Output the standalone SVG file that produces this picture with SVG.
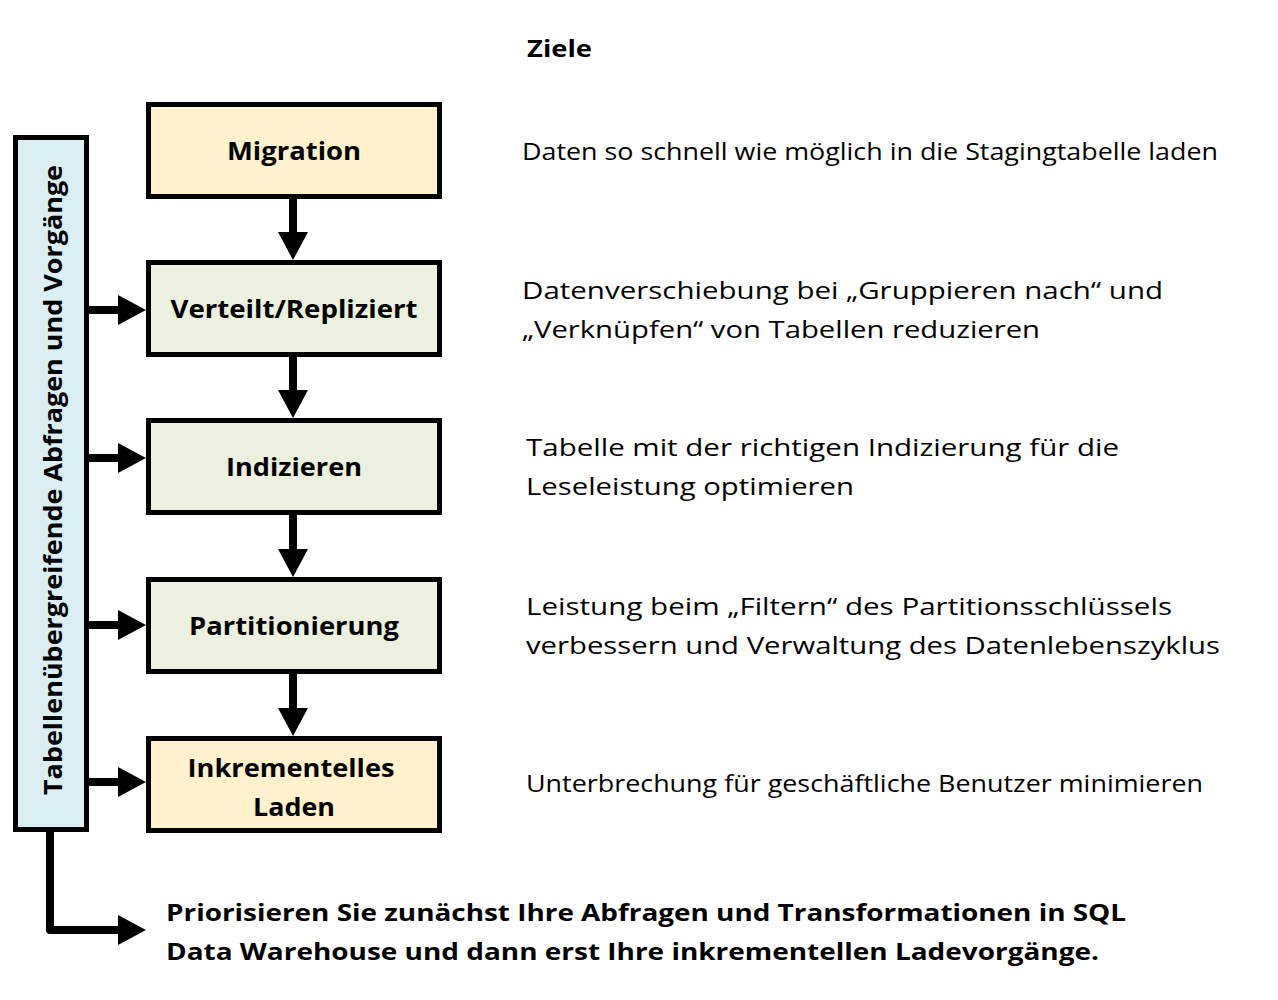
<svg xmlns="http://www.w3.org/2000/svg" width="1278" height="1000" viewBox="0 0 1278 1000">
<style>
.box{stroke:#000;stroke-width:5}
.yel{fill:#FFF2CC}
.grn{fill:#EBF1DE}
.blu{fill:#DBEEF4}
.lbl{font-family:"Open Sans","Liberation Sans",sans-serif;font-weight:bold;font-size:25px;fill:#000;text-anchor:middle}
.txt{font-family:"Open Sans","Liberation Sans",sans-serif;font-size:24px;fill:#000}
.btxt{font-family:"Open Sans","Liberation Sans",sans-serif;font-weight:bold;font-size:24px;fill:#000}
.con{stroke:#000;stroke-width:8;fill:none;marker-end:url(#ah)}
</style>
<defs>
<marker id="ah" viewBox="0 0 28 30" refX="8" refY="15" markerWidth="28" markerHeight="30" markerUnits="userSpaceOnUse" orient="auto">
<path d="M0,0 L28,15 L0,30 z" fill="#000"/>
</marker>
</defs>
<rect width="1278" height="1000" fill="#fff"/>
<text class="btxt" x="527" y="57" textLength="65" lengthAdjust="spacingAndGlyphs">Ziele</text>

<g id="side">
<rect class="box blu" x="15.5" y="137.5" width="71" height="692"/>
<text class="lbl" transform="translate(62,480) rotate(-90)" x="0" y="0" textLength="630" lengthAdjust="spacingAndGlyphs">Tabellenübergreifende Abfragen und Vorgänge</text>
</g>

<g id="migration">
<rect class="box yel" x="148.5" y="104.5" width="291" height="92"/>
<text class="lbl" x="294" y="160" textLength="134" lengthAdjust="spacingAndGlyphs">Migration</text>
</g>
<g id="verteilt">
<rect class="box grn" x="148.5" y="262.5" width="291" height="92"/>
<text class="lbl" x="294" y="318" textLength="247" lengthAdjust="spacingAndGlyphs">Verteilt/Repliziert</text>
</g>
<g id="indizieren">
<rect class="box grn" x="148.5" y="420.5" width="291" height="92"/>
<text class="lbl" x="294" y="476" textLength="136" lengthAdjust="spacingAndGlyphs">Indizieren</text>
</g>
<g id="partitionierung">
<rect class="box grn" x="148.5" y="579.5" width="291" height="92"/>
<text class="lbl" x="294" y="635" textLength="210" lengthAdjust="spacingAndGlyphs">Partitionierung</text>
</g>
<g id="inkrementell">
<rect class="box yel" x="148.5" y="738.5" width="291" height="92"/>
<text class="lbl" x="291" y="777" textLength="207" lengthAdjust="spacingAndGlyphs">Inkrementelles</text>
<text class="lbl" x="294" y="816" textLength="82" lengthAdjust="spacingAndGlyphs">Laden</text>
</g>

<g id="connectors">
<line class="con" x1="293" y1="199" x2="293" y2="240"/>
<line class="con" x1="293" y1="357" x2="293" y2="398"/>
<line class="con" x1="293" y1="515" x2="293" y2="557"/>
<line class="con" x1="293" y1="674" x2="293" y2="716"/>
<line class="con" x1="88" y1="310" x2="126" y2="310"/>
<line class="con" x1="88" y1="458" x2="126" y2="458"/>
<line class="con" x1="88" y1="625" x2="126" y2="625"/>
<line class="con" x1="88" y1="782" x2="126" y2="782"/>
<path class="con" d="M50,830 V930 H126" stroke-linejoin="round"/>
</g>

<g id="goals">
<text class="txt" x="522" y="160" textLength="696" lengthAdjust="spacingAndGlyphs">Daten so schnell wie möglich in die Stagingtabelle laden</text>
<text class="txt" x="522" y="299" textLength="641" lengthAdjust="spacingAndGlyphs">Datenverschiebung bei „Gruppieren nach“ und</text>
<text class="txt" x="522" y="338" textLength="518" lengthAdjust="spacingAndGlyphs">„Verknüpfen“ von Tabellen reduzieren</text>
<text class="txt" x="526" y="456" textLength="593" lengthAdjust="spacingAndGlyphs">Tabelle mit der richtigen Indizierung für die</text>
<text class="txt" x="526" y="495" textLength="328" lengthAdjust="spacingAndGlyphs">Leseleistung optimieren</text>
<text class="txt" x="526" y="615" textLength="646" lengthAdjust="spacingAndGlyphs">Leistung beim „Filtern“ des Partitionsschlüssels</text>
<text class="txt" x="526" y="654" textLength="694" lengthAdjust="spacingAndGlyphs">verbessern und Verwaltung des Datenlebenszyklus</text>
<text class="txt" x="526" y="792" textLength="677" lengthAdjust="spacingAndGlyphs">Unterbrechung für geschäftliche Benutzer minimieren</text>
</g>

<g id="note">
<text class="btxt" x="166" y="921" textLength="960" lengthAdjust="spacingAndGlyphs">Priorisieren Sie zunächst Ihre Abfragen und Transformationen in SQL</text>
<text class="btxt" x="166" y="960" textLength="933" lengthAdjust="spacingAndGlyphs">Data Warehouse und dann erst Ihre inkrementellen Ladevorgänge.</text>
</g>
</svg>
